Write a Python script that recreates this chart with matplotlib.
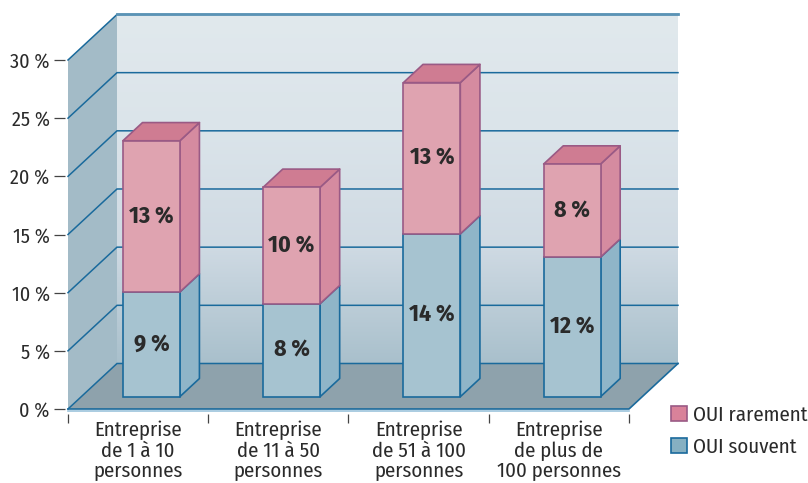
import numpy as np
import matplotlib
matplotlib.use("Agg")
import matplotlib.pyplot as plt
from matplotlib.patches import Patch, Polygon
from matplotlib.colors import LinearSegmentedColormap

categories = ["Entreprise\nde 1 à 10\npersonnes", "Entreprise\nde 11 à 50\npersonnes",
              "Entreprise\nde 51 à 100\npersonnes", "Entreprise\nde plus de\n100 personnes"]
souvent = [9, 8, 14, 12]
rarement = [13, 10, 13, 8]
y_ticks = [0, 5, 10, 15, 20, 25, 30]

plt.rcParams['font.family'] = ['Fira Sans Condensed', 'Liberation Sans', 'DejaVu Sans']
TEXT = '#2a2a2a'
LINE = '#1a6a9c'

W, H = 808, 483
fig = plt.figure(figsize=(W / 100, H / 100), dpi=100, facecolor='white')
ax = fig.add_axes([68 / W, (H - 409) / H, (629 - 68) / W, (409 - 60) / H])
ax.set_xlim(0, 4)
ax.set_ylim(0, 30)

# depth of the box, in data units
DX = 49 / 140.25
DY = 45.5 / 11.63
BAR_D = 0.27     # front of the bars on the floor
BAR_DEPTH = 0.40
BAR_W = 0.406


def box_sides(ax, x, bottom, top, face_side, face_top, edge):
    x0 = x - BAR_W / 2 + BAR_D * DX
    x1 = x + BAR_W / 2 + BAR_D * DX
    y0 = bottom + BAR_D * DY
    y1 = top + BAR_D * DY
    ox = BAR_DEPTH * DX
    oy = BAR_DEPTH * DY
    ax.add_patch(Polygon([(x1, y0), (x1 + ox, y0 + oy), (x1 + ox, y1 + oy), (x1, y1)],
                         fc=face_side, ec=edge, lw=1.2, zorder=4, clip_on=False, joinstyle='round'))
    if face_top:
        ax.add_patch(Polygon([(x0, y1), (x0 + ox, y1 + oy), (x1 + ox, y1 + oy), (x1, y1)],
                             fc=face_top, ec=edge, lw=1.2, zorder=4, clip_on=False, joinstyle='round'))


# back wall with its vertical gradient
cmap = LinearSegmentedColormap.from_list('wall', ['#e1e9ed', '#dbe4ea', '#cfdae3', '#a9c0cc'])
grad = np.linspace(0, 1, 256).reshape(-1, 1)
ax.imshow(grad, cmap=cmap, extent=(DX, 4 + DX, DY, 30 + DY), aspect='auto', origin='upper',
          zorder=0, clip_on=False)
ax.set_xlim(0, 4)
ax.set_ylim(0, 30)

# side wall and floor
ax.add_patch(Polygon([(0, 0), (DX, DY), (DX, 30 + DY), (0, 30)], fc='#a3bbc7', ec='none',
                     zorder=1, clip_on=False))
ax.add_patch(Polygon([(0, 0), (4, 0), (4 + DX, DY), (DX, DY)], fc='#8ea2ac', ec='none',
                     zorder=1, clip_on=False))

# grid lines running along both walls
for v in y_ticks:
    ax.plot([0, DX, 4 + DX], [v, v + DY, v + DY], color=LINE, lw=1.1, zorder=2, clip_on=False,
            solid_joinstyle='miter')
ax.plot([DX, 4 + DX], [30 + DY, 30 + DY], color='#5b93b5', lw=2, zorder=2, clip_on=False)
ax.plot([0, 4, 4 + DX], [0, 0, DY], color=LINE, lw=1.2, zorder=2, clip_on=False)
ax.plot([0, 4], [-0.13, -0.13], color='#9cc4dc', lw=1.2, zorder=2, clip_on=False)

centers = np.arange(4) + 0.5
base = BAR_D * DY
ax.bar(centers + BAR_D * DX, souvent, BAR_W, bottom=base, color='#a6c3d0', edgecolor=LINE,
       linewidth=1.2, zorder=5, clip_on=False)
ax.bar(centers + BAR_D * DX, rarement, BAR_W, bottom=[base + s for s in souvent], color='#dfa3b0',
       edgecolor='#9a5a85', linewidth=1.2, zorder=5, clip_on=False)

for i in range(4):
    s = souvent[i]
    r = rarement[i]
    box_sides(ax, centers[i], 0, s, '#8fb5c8', None, LINE)
    box_sides(ax, centers[i], s, s + r, '#d58ba0', '#cf7c92', '#9a5a85')
    ax.text(centers[i] + BAR_D * DX, base + s / 2, f"{s} %", ha='center', va='center',
            fontsize=17, fontweight='bold', color=TEXT, zorder=6)
    ax.text(centers[i] + BAR_D * DX, base + s + r / 2, f"{r} %", ha='center', va='center',
            fontsize=17, fontweight='bold', color=TEXT, zorder=6)

# axes: ticks stand a little away from the walls
for name in ['top', 'right']:
    ax.spines[name].set_visible(False)
ax.spines['left'].set_position(('outward', 2.2))
ax.spines['bottom'].set_position(('outward', 3.6))
ax.spines['left'].set_visible(False)
ax.spines['bottom'].set_visible(False)
ax.set_yticks(y_ticks)
ax.set_yticklabels([f"{v} %" for v in y_ticks], fontsize=14.5, color=TEXT)
ax.tick_params(axis='y', length=8, width=0.9, color='#444444', pad=3)
ax.set_xticks(range(5))
ax.set_xticklabels([])
ax.tick_params(axis='x', which='major', length=6.5, width=0.9, color='#444444')
ax.set_xticks(centers, minor=True)
ax.set_xticklabels(categories, minor=True, fontsize=15, color=TEXT, linespacing=1.08)
ax.tick_params(axis='x', which='minor', length=0, pad=4.5)
ax.patch.set_visible(False)

handles = [Patch(fc='#d9829a', ec='#9a5a85', lw=1.2, label='OUI rarement'),
           Patch(fc='#86b0c2', ec=LINE, lw=1.2, label='OUI souvent')]
fig.legend(handles=handles, loc='upper left', bbox_to_anchor=(665 / W, 1 - 399 / H), frameon=False,
           fontsize=15, labelcolor=TEXT, handlelength=0.77, handleheight=0.77, handletextpad=0.29,
           labelspacing=0.6, borderpad=0.3, borderaxespad=0)

fig.savefig('out.png', dpi=100)
